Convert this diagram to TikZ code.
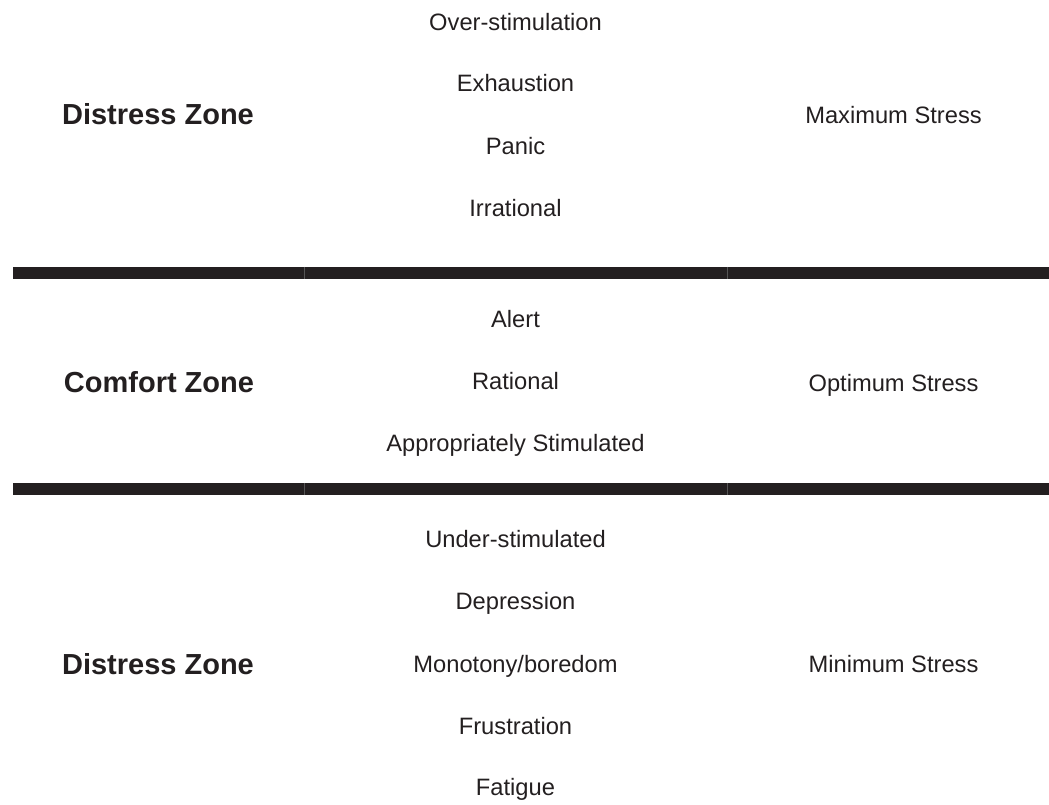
\documentclass[tikz,border=0pt]{standalone}
\usepackage{fontspec}
\setmainfont{Liberation Sans}
\definecolor{ink}{HTML}{231F20}
\definecolor{seam}{HTML}{555555}
\begin{document}
\begin{tikzpicture}[x=1pt,y=1pt,
  item/.style={anchor=base,inner sep=0pt,text=ink,font=\fontsize{23.7}{28}\selectfont},
  zone/.style={anchor=base,inner sep=0pt,text=ink,font=\fontsize{29}{34}\selectfont\bfseries},
  barpart/.style={fill=ink,draw=none},
  seamline/.style={draw=seam,line width=0.8pt}]
\useasboundingbox (0,0) rectangle (1049,805);
% top group
\node[item] (os) at (515.5,805-30.7) {Over-stimulation};
\node[item] (ex) at (515.5,805-91.7) {Exhaustion};
\node[item] (pa) at (515.5,805-155) {Panic};
\node[item] (ir) at (515.5,805-216.7) {Irrational};
\node[zone] (dz1) at (158,805-125) {Distress Zone};
\node[item] (maxs) at (893.5,805-123.3) {Maximum Stress};
% bars
\foreach \yt/\yb in {267/279,483/495}{
  \fill[barpart] (13,805-\yt) rectangle (1049,805-\yb);
  \draw[seamline] (304,805-\yt) -- (304,805-\yb);
  \draw[seamline] (727,805-\yt) -- (727,805-\yb);
}
% middle group
\node[item] (al) at (515.5,805-327.7) {Alert};
\node[item] (ra) at (515.5,805-390) {Rational};
\node[item] (as) at (515.5,805-451.7) {Appropriately Stimulated};
\node[zone] (cz) at (159,805-392.3) {Comfort Zone};
\node[item] (opts) at (893.5,805-392) {Optimum Stress};
% bottom group
\node[item] (us) at (515.5,805-547.7) {Under-stimulated};
\node[item] (de) at (515.5,805-610) {Depression};
\node[item] (mo) at (515.5,805-672.3) {Monotony/boredom};
\node[item] (fr) at (515.5,805-734.3) {Frustration};
\node[item] (fa) at (515.5,805-796) {Fatigue};
\node[zone] (dz2) at (158,805-675) {Distress Zone};
\node[item] (mins) at (893.5,805-672.7) {Minimum Stress};
\end{tikzpicture}
\end{document}
